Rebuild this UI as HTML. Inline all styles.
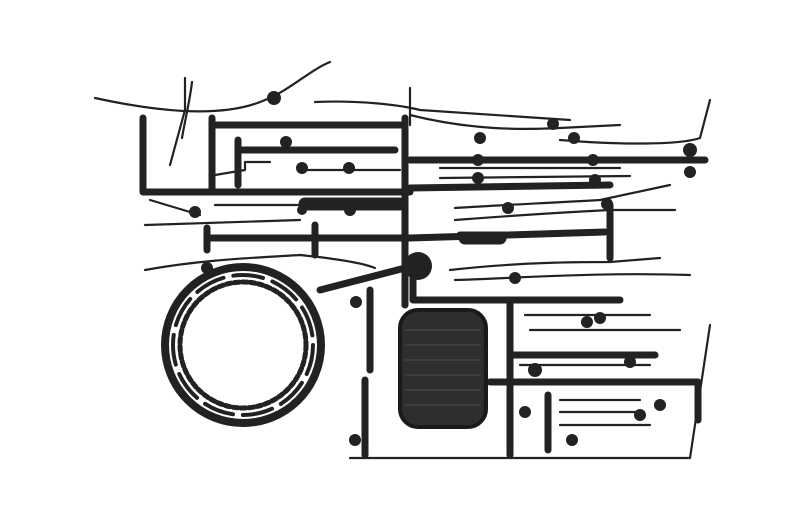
<!DOCTYPE html>
<html><head><meta charset="utf-8"><style>
html,body{margin:0;padding:0;background:#fff;width:800px;height:523px;overflow:hidden}
</style></head><body>
<svg width="800" height="523" viewBox="0 0 800 523" xmlns="http://www.w3.org/2000/svg">
<g fill="none" stroke="#222" stroke-linecap="round" stroke-linejoin="round">
<g stroke-width="7">
<path d="M143 118 V192 H410"/>
<path d="M212 118 V190"/>
<path d="M405 118 V305"/>
<path d="M238 140 V185"/>
<path d="M210 238 H410 L605 232"/>
<path d="M410 160 H705"/>
<path d="M410 188 L610 185"/>
<path d="M413 262 V300 H620"/>
<path d="M510 300 V455"/>
<path d="M510 355 H655"/>
<path d="M490 382 H698 V420"/>
<path d="M320 290 L405 268"/>
<path d="M370 290 V370"/>
<path d="M365 380 V455"/>
<path d="M212 125 H405"/>
<path d="M240 150 H395"/>
<path d="M610 205 V258"/>
<path d="M315 225 V255"/>
<path d="M207 228 V250"/>
<path d="M548 395 V450"/>
<path d="M460 235 H505"/>
</g>
<g stroke-width="13">
<path d="M305 204 H400"/>
<path d="M465 238 H500"/>
</g>
<circle cx="243" cy="345" r="78" stroke-width="8"/>
<circle cx="243" cy="345" r="63" stroke-width="5" stroke-dasharray="5 3"/>
<circle cx="243" cy="345" r="70" stroke-width="4" stroke-dasharray="30 10"/>
<g stroke-width="2.2">
<path d="M95 98 C150 110 220 120 265 100 C290 90 310 70 330 62"/>
<path d="M185 78 V110 L170 165"/>
<path d="M192 82 C190 100 185 120 182 138"/>
<path d="M315 102 C360 100 400 105 420 110 C500 115 540 118 570 120"/>
<path d="M410 88 V125"/>
<path d="M410 115 C470 130 520 130 560 128 L620 125"/>
<path d="M560 140 C620 145 680 145 700 138 L710 100"/>
<path d="M150 200 L200 215"/>
<path d="M145 225 L300 220"/>
<path d="M145 270 C200 260 250 258 300 255 C330 258 360 262 375 268"/>
<path d="M455 208 C500 205 550 203 600 200 L670 185"/>
<path d="M455 220 C520 215 570 212 610 210 L675 210"/>
<path d="M450 270 C520 262 580 262 610 262 L660 258"/>
<path d="M455 280 C520 278 600 272 690 275"/>
<path d="M525 315 H650"/>
<path d="M530 330 H680"/>
<path d="M350 458 H690 L710 325"/>
<path d="M215 175 L245 170 V162 L270 162"/>
<path d="M440 168 H620"/>
<path d="M440 178 L630 176"/>
<path d="M300 170 H400"/>
<path d="M215 205 H300"/>
<path d="M560 400 H640"/>
<path d="M560 412 H640"/>
<path d="M560 425 H650"/>
<path d="M520 365 H650"/>
</g>
</g>
<g fill="#222">
<circle cx="418" cy="266" r="14"/>
<rect x="400" y="310" width="86" height="117" rx="18" fill="#2e2e2e" stroke="#1a1a1a" stroke-width="4"/>
<g stroke="#444" stroke-width="1.5"><path d="M405 330 H481 M405 345 H481 M405 360 H481 M405 375 H481 M405 390 H481 M405 405 H481"/></g>
<circle cx="195" cy="212" r="6"/><circle cx="207" cy="268" r="6"/>
<circle cx="274" cy="98" r="7"/><circle cx="286" cy="142" r="6"/>
<circle cx="302" cy="168" r="6"/><circle cx="349" cy="168" r="6"/>
<circle cx="350" cy="210" r="6"/><circle cx="356" cy="302" r="6"/>
<circle cx="355" cy="440" r="6"/><circle cx="480" cy="138" r="6"/>
<circle cx="478" cy="178" r="6"/><circle cx="508" cy="208" r="6"/>
<circle cx="553" cy="124" r="6"/><circle cx="574" cy="138" r="6"/>
<circle cx="595" cy="180" r="6"/><circle cx="607" cy="204" r="6"/>
<circle cx="690" cy="172" r="6"/><circle cx="690" cy="150" r="7"/>
<circle cx="515" cy="278" r="6"/><circle cx="587" cy="322" r="6"/>
<circle cx="600" cy="318" r="6"/><circle cx="535" cy="370" r="7"/>
<circle cx="630" cy="362" r="6"/><circle cx="660" cy="405" r="6"/>
<circle cx="525" cy="412" r="6"/><circle cx="572" cy="440" r="6"/>
<circle cx="640" cy="415" r="6"/><circle cx="302" cy="210" r="5"/>
<circle cx="478" cy="160" r="6"/><circle cx="593" cy="160" r="6"/>
</g>
</svg>
</body></html>
